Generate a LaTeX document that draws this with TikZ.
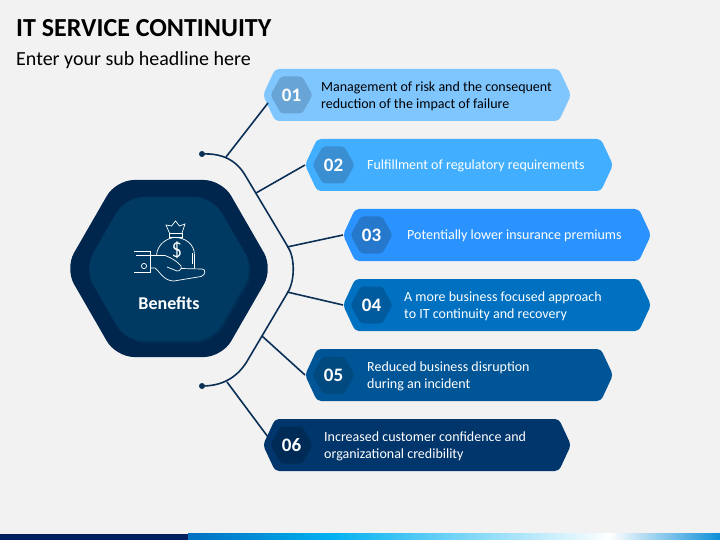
\documentclass[tikz,border=0pt]{standalone}
\usepackage{fontspec}
\setmainfont{Carlito}
\usetikzlibrary{calc, arrows.meta, shapes.symbols}
\definecolor{pagebg}{HTML}{F2F2F2}
\definecolor{linenavy}{HTML}{0B2F55}
\definecolor{hexouter}{HTML}{00264D}
\definecolor{hexinner}{HTML}{003A63}
\definecolor{hexshade}{HTML}{002E55}
\definecolor{bana}{HTML}{7FC6FF}
\definecolor{banb}{HTML}{41AEFF}
\definecolor{banc}{HTML}{2B93FF}
\definecolor{band}{HTML}{0070C0}
\definecolor{bane}{HTML}{005596}
\definecolor{banf}{HTML}{00366B}
\definecolor{bada}{HTML}{69A4D6}
\definecolor{badb}{HTML}{3A8FD2}
\definecolor{badc}{HTML}{2678CC}
\definecolor{badd}{HTML}{005A9E}
\definecolor{bade}{HTML}{004A80}
\definecolor{badf}{HTML}{002B57}
\definecolor{stripa}{HTML}{002060}
\definecolor{stripb}{HTML}{0070C0}
\definecolor{stripc}{HTML}{00B0F0}
\definecolor{stripd}{HTML}{0E8FD8}
\tikzset{
    banner/.style={signal, signal to=west and east, signal pointer angle=130, rounded corners=4pt,
        minimum width=308pt, minimum height=52pt, inner sep=0pt, outer sep=0pt},
    badge/.style={signal, signal to=west and east, signal pointer angle=122, rounded corners=3pt,
        minimum width=42pt, minimum height=37pt, inner sep=0pt, outer sep=0pt,
        text=white, font=\fontsize{19}{19}\selectfont\bfseries},
    bantext/.style={anchor=west, align=left, inner sep=0pt, font=\fontsize{14}{17}\selectfont},
    joint/.style={line width=1.6pt, draw=linenavy},
    icon/.style={draw=white, line width=0.7pt}
}
\begin{document}
\begin{tikzpicture}[x=1pt,y=-1pt]
    \fill[pagebg] (0,0) rectangle (720,540);
    \useasboundingbox (0,0) rectangle (720,540);
    % bottom strip
    \fill[stripa] (0,533.5) rectangle (188,540);
    \shade[left color=stripb, right color=stripc] (188,533.5) rectangle (330,540);
    \shade[left color=stripc, right color=white] (329.5,533.5) rectangle (610,540);
    \shade[left color=white, right color=stripd] (609.5,533.5) rectangle (720,540);
    % headline
    \node[anchor=base west, inner sep=0pt, font=\fontsize{26}{26}\selectfont\bfseries] (title) at (16,37) {IT SERVICE CONTINUITY};
    \node[anchor=base west, inner sep=0pt, font=\fontsize{20}{20}\selectfont] (subtitle) at (16,65.5) {Enter your sub headline here};
    % banners
    \foreach \n/\xc/\yc/\fillc/\badc/\txtc/\txtx/\txt in {
        1/417/95/bana/bada/black/321/{Management of risk and the consequent\\reduction of the impact of failure},
        2/459/165/banb/badb/white/367/{Fulfillment of regulatory requirements},
        3/497/235/banc/badc/white/407/{Potentially lower insurance premiums},
        4/497/305/band/badd/white/404/{A more business focused approach\\to IT continuity and recovery},
        5/459/375/bane/bade/white/367/{Reduced business disruption\\during an incident},
        6/417/445/banf/badf/white/324/{Increased customer confidence and\\organizational credibility}}{
        \node[banner, fill=\fillc] (ban\n) at (\xc,\yc) {};
        \node[badge, fill=\badc] (num\n) at ($(ban\n.west)+(28.5,0)$) {0\n};
        \node[bantext, text=\txtc] (txt\n) at (\txtx,\yc+1) {\txt};
    }
    % central hexagon
    \fill[hexouter, rounded corners=18pt] (65,268.5) -- (116,180) -- (222,180) -- (273,268.5) -- (222,357) -- (116,357) -- cycle;
    \fill[hexshade, rounded corners=18pt] (86,271) -- (127,199) -- (214,199) -- (256,271) -- (214,343) -- (127,343) -- cycle;
    \fill[hexinner, rounded corners=18pt] (84,269) -- (125.5,197) -- (212.5,197) -- (254,269) -- (212.5,341) -- (125.5,341) -- cycle;
    \node[text=white, inner sep=0pt, font=\fontsize{18}{18}\selectfont\bfseries] (benefits) at (169,303) {Benefits};
    % money icon
    \draw[icon] (134,251) -- (150.7,251) -- (150.7,272.5) -- (134,272.5);
    \draw[icon] (136,255.5) -- (150.7,255.5);
    \draw[icon] (144,266) circle (2.6pt);
    \draw[icon] (150.7,255.5) -- (165,255.5) .. controls (172,258) and (178,262) .. (181,266) .. controls (182,269) and (180,271) .. (177,271) -- (167,267);
    \draw[icon] (150.7,268) -- (155,268) .. controls (160,272) and (164,281) .. (174,281) -- (201,276.5) .. controls (206,275) and (206,269) .. (202,269) -- (181,268.5);
    \draw[icon] (156.5,255.5) .. controls (157,244) and (168,237.5) .. (175,237.5) .. controls (185,237.5) and (194.5,244) .. (194.5,255) -- (194.5,268);
    \draw[icon] (192,253) -- (192,264);
    \draw[icon] (169.5,233) rectangle (182,237.5);
    \draw[icon] (169.5,233) -- (166,225) -- (171.5,226) -- (175.5,221) -- (179.5,226) -- (185,224) -- (182,233);
    \node[text=white, inner sep=0pt, font=\fontsize{21}{21}\selectfont\sffamily] (dollar) at (177,250) {\$};
    % connectors
    \node[circle, fill=linenavy, inner sep=0pt, minimum size=6pt] (dottop) at (202,154) {};
    \node[circle, fill=linenavy, inner sep=0pt, minimum size=6pt] (dotbot) at (202,386) {};
    \draw[joint] (dottop.center) .. controls (222,153) and (236,160) .. (245,175) -- (288,247) .. controls (295,258) and (295,280) .. (288,292) -- (262,336) -- (246,363) .. controls (236,378) and (222,386) .. (dotbot.center);
    \coordinate (jnta) at (226,157);
    \coordinate (jntb) at (256,193);
    \coordinate (jntc) at (287,247);
    \coordinate (jntd) at (287,292);
    \coordinate (jnte) at (262,336);
    \coordinate (jntf) at (227,382);
    \coordinate (enda) at (268,103);
    \coordinate (endf) at (268,437);
    \draw[joint] (jnta) -- (enda);
    \draw[joint] (jntb) -- (ban2.west);
    \draw[joint] (jntc) -- (ban3.west);
    \draw[joint] (jntd) -- (ban4.west);
    \draw[joint] (jnte) -- (ban5.west);
    \draw[joint] (jntf) -- (endf);
\end{tikzpicture}
\end{document}
